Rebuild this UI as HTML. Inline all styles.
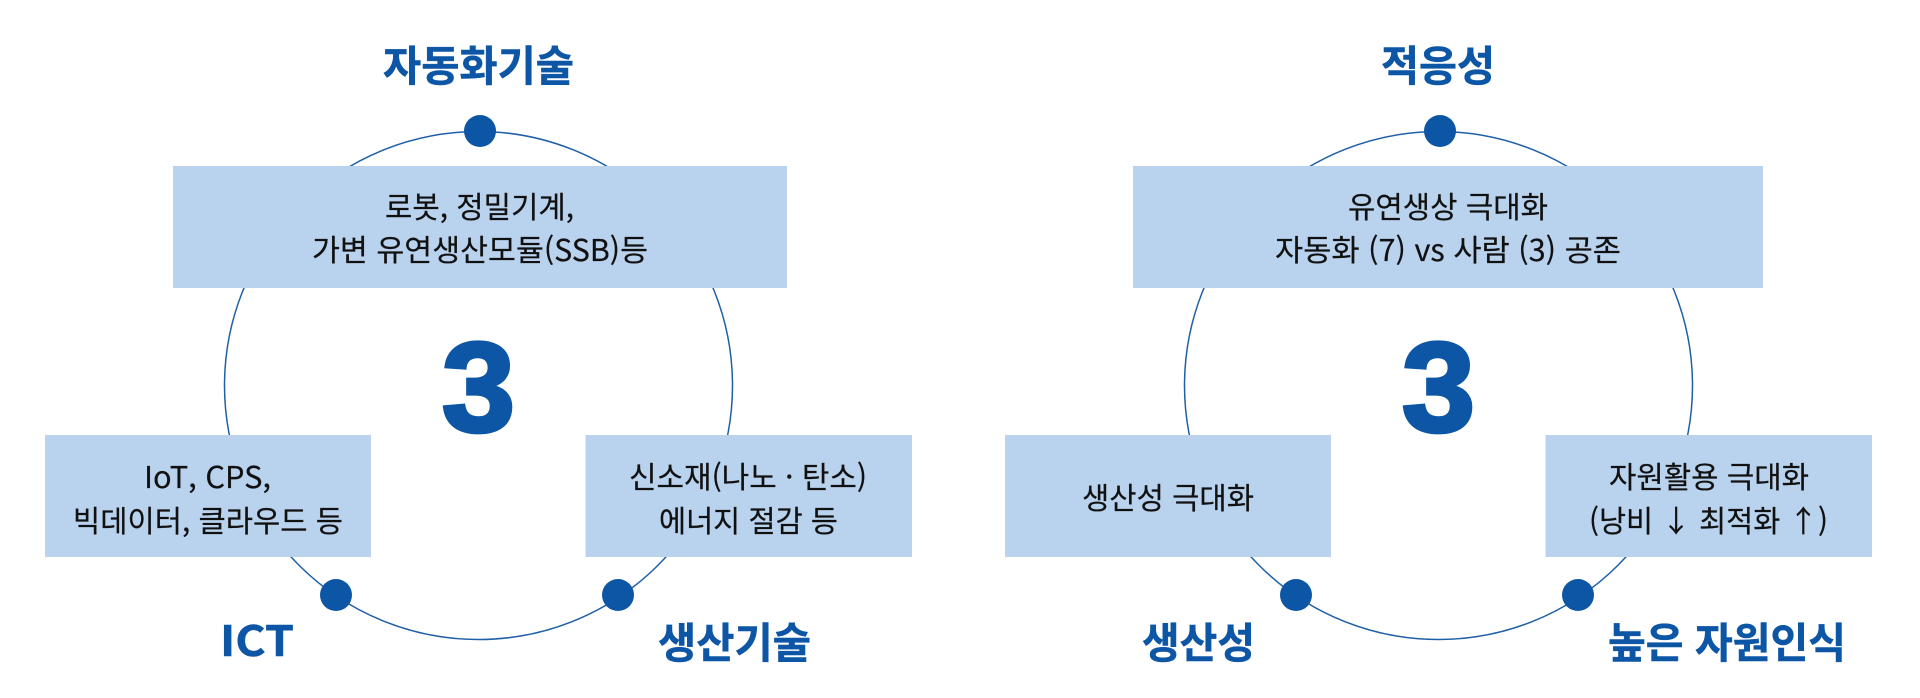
<!DOCTYPE html>
<html lang="ko">
<head>
<meta charset="utf-8">
<title>Diagram</title>
<style>
html,body{margin:0;padding:0;background:#fff;width:1920px;height:698px;overflow:hidden}
svg{display:block}
text{font-family:"Noto Sans CJK KR","Liberation Sans",sans-serif}
.l{font-size:42px;font-weight:700;fill:#0d56a6;stroke:#0d56a6;stroke-width:.5px}
.b{font-size:30px;font-weight:400;fill:#111;stroke:#111;stroke-width:.2px}
.n{font-family:"Liberation Sans",sans-serif;font-size:127px;font-weight:700;fill:#0d56a6;stroke:#0d56a6;stroke-width:4px}
</style>
</head>
<body>
<svg width="1920" height="698" viewBox="0 0 1920 698" xmlns="http://www.w3.org/2000/svg">
  <g fill="none" stroke="#1f5fa8" stroke-width="1.5">
    <circle cx="478.500" cy="385.500" r="254"/>
    <circle cx="1438.500" cy="385.500" r="254"/>
  </g>
  <g fill="#b9d2ee">
    <rect x="173" y="166" width="614" height="122"/>
    <rect x="45" y="435" width="326" height="122"/>
    <rect x="585.500" y="435" width="326.500" height="122"/>
    <rect x="1133" y="166" width="630" height="122"/>
    <rect x="1005" y="435" width="326" height="122"/>
    <rect x="1545.500" y="435" width="326.500" height="122"/>
  </g>
  <g fill="#0d56a6">
    <circle cx="480" cy="131" r="16"/>
    <circle cx="336" cy="595" r="16"/>
    <circle cx="618" cy="595" r="16"/>
    <circle cx="1440" cy="131" r="16"/>
    <circle cx="1296" cy="595" r="16"/>
    <circle cx="1578" cy="595" r="16"/>
  </g>

  <text class="n" x="442" y="431" textLength="73" lengthAdjust="spacingAndGlyphs">3</text>
  <text class="n" x="1402" y="431" textLength="73" lengthAdjust="spacingAndGlyphs">3</text>

  <text class="l" x="383" y="81" textLength="191" lengthAdjust="spacingAndGlyphs">자동화기술</text>
  <text class="l" x="220" y="656" textLength="74" lengthAdjust="spacingAndGlyphs">ICT</text>
  <text class="l" x="658" y="658" textLength="153" lengthAdjust="spacingAndGlyphs">생산기술</text>
  <text class="l" x="1381" y="81" textLength="114" lengthAdjust="spacingAndGlyphs">적응성</text>
  <text class="l" x="1142" y="658" textLength="113" lengthAdjust="spacingAndGlyphs">생산성</text>
  <text class="l" x="1608" y="658" textLength="238" lengthAdjust="spacingAndGlyphs">높은 자원인식</text>

  <text class="b" x="385" y="218" textLength="189" lengthAdjust="spacingAndGlyphs">로봇, 정밀기계,</text>
  <text class="b" x="312" y="261" textLength="336" lengthAdjust="spacingAndGlyphs">가변 유연생산모듈(SSB)등</text>
  <text class="b" x="144" y="488" textLength="127" lengthAdjust="spacingAndGlyphs">IoT, CPS,</text>
  <text class="b" x="73" y="532" textLength="270" lengthAdjust="spacingAndGlyphs">빅데이터, 클라우드 등</text>
  <text class="b" x="629" y="488" textLength="238" lengthAdjust="spacingAndGlyphs">신소재(나노 · 탄소)</text>
  <text class="b" x="659" y="532" textLength="179" lengthAdjust="spacingAndGlyphs">에너지 절감 등</text>

  <text class="b" x="1348" y="218" textLength="200" lengthAdjust="spacingAndGlyphs">유연생상 극대화</text>
  <text class="b" x="1275" y="261" textLength="346" lengthAdjust="spacingAndGlyphs">자동화 (7) vs 사람 (3) 공존</text>
  <text class="b" x="1082" y="509" textLength="172" lengthAdjust="spacingAndGlyphs">생산성 극대화</text>
  <text class="b" x="1609" y="488" textLength="200" lengthAdjust="spacingAndGlyphs">자원활용 극대화</text>
  <text class="b" x="1589" y="532" textLength="239" lengthAdjust="spacingAndGlyphs">(낭비 ↓ 최적화 ↑)</text>
</svg>
</body>
</html>
